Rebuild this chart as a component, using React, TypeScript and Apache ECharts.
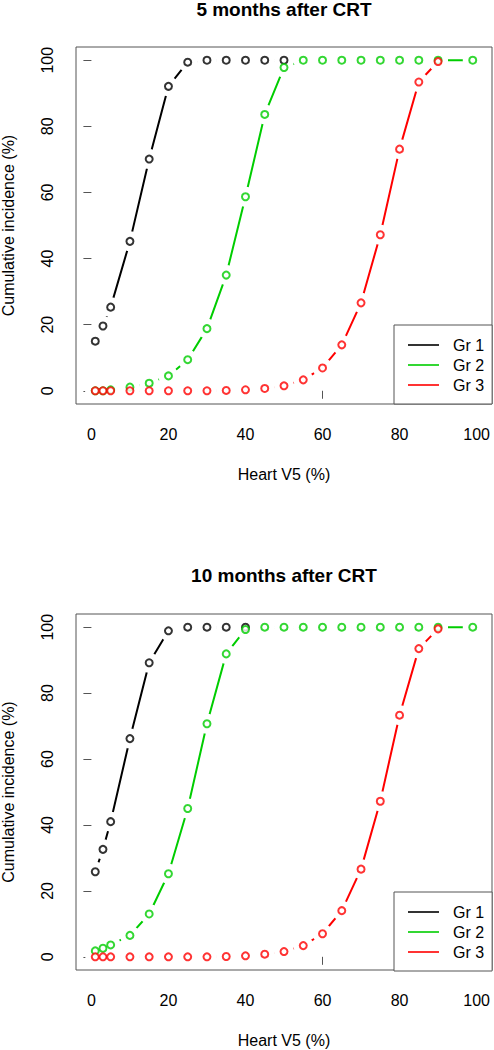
import React, { useEffect, useRef } from "react";
import * as echarts from "echarts";

// ---- Data ----
const titles = ["5 months after CRT", "10 months after CRT"];
const groupNames = ["Gr 1", "Gr 2", "Gr 3"];
const groupColors = ["#000000", "#00CD00", "#FF0000"];
const tickValues = [0, 20, 40, 60, 80, 100];

// Panel 1 (5 months)
const x5Gr1 = [1, 3, 5, 10, 15, 20, 25, 30, 35, 40, 45, 50];
const y5Gr1 = [15.0, 19.6, 25.3, 45.2, 70.1, 92.1, 99.4, 100, 100, 100, 100, 100];
const x5Gr2 = [1, 3, 5, 10, 15, 20, 25, 30, 35, 40, 45, 50, 55, 60, 65, 70, 75, 80, 85, 90, 99];
const y5Gr2 = [0, 0, 0.3, 1.1, 2.3, 4.5, 9.4, 18.8, 35.0, 58.7, 83.6, 97.8, 100, 100, 100, 100, 100, 100, 100, 100, 100];
const x5Gr3 = [1, 3, 5, 10, 15, 20, 25, 30, 35, 40, 45, 50, 55, 60, 65, 70, 75, 80, 85, 90];
const y5Gr3 = [0, 0, 0, 0, 0, 0, 0, 0, 0.1, 0.3, 0.7, 1.5, 3.3, 6.9, 13.9, 26.6, 47.2, 73.1, 93.4, 99.6];

// Panel 2 (10 months)
const x10Gr1 = [1, 3, 5, 10, 15, 20, 25, 30, 35, 40];
const y10Gr1 = [25.8, 32.6, 41.0, 66.2, 89.2, 98.9, 100, 100, 100, 100];
const x10Gr2 = [1, 3, 5, 10, 15, 20, 25, 30, 35, 40, 45, 50, 55, 60, 65, 70, 75, 80, 85, 90, 99];
const y10Gr2 = [1.8, 2.6, 3.6, 6.5, 13.0, 25.2, 45.0, 70.7, 91.9, 99.3, 100, 100, 100, 100, 100, 100, 100, 100, 100, 100, 100];
const x10Gr3 = [1, 3, 5, 10, 15, 20, 25, 30, 35, 40, 45, 50, 55, 60, 65, 70, 75, 80, 85, 90];
const y10Gr3 = [0, 0, 0, 0, 0, 0, 0, 0, 0.1, 0.3, 0.8, 1.6, 3.4, 7.0, 14.0, 26.6, 47.2, 73.3, 93.5, 99.5];

const panels = [
  { xs: [x5Gr1, x5Gr2, x5Gr3], ys: [y5Gr1, y5Gr2, y5Gr3] },
  { xs: [x10Gr1, x10Gr2, x10Gr3], ys: [y10Gr1, y10Gr2, y10Gr3] },
];

const FONT = "'Liberation Sans', Arial, sans-serif";

export default function App() {
  const ref = useRef<HTMLDivElement>(null);

  useEffect(() => {
    if (!ref.current) return;
    const chart = echarts.init(ref.current, null, { renderer: "svg" });

    const grids = [
      { left: 76, top: 47, width: 416, height: 357 },
      { left: 76, top: 614, width: 416, height: 356 },
    ];

    const xAxes = grids.map((_, i) => ({
      type: "value",
      gridIndex: i,
      min: -4,
      max: 104,
      name: "Heart V5 (%)",
      nameLocation: "middle",
      nameGap: 62,
      nameTextStyle: { fontSize: 16, color: "#000", fontFamily: FONT },
      axisLine: { show: false },
      splitLine: { show: false },
      axisTick: { show: true, length: 8, customValues: tickValues, lineStyle: { color: "#555" } },
      axisLabel: { show: true, customValues: tickValues, margin: 22, fontSize: 16, color: "#000", fontFamily: FONT },
    }));

    const yAxes = grids.map((_, i) => ({
      type: "value",
      gridIndex: i,
      min: -4,
      max: 104,
      name: "Cumulative incidence (%)",
      nameLocation: "middle",
      nameGap: 60,
      nameTextStyle: { fontSize: 16, color: "#000", fontFamily: FONT },
      axisLine: { show: false },
      splitLine: { show: false },
      axisTick: { show: true, length: 8, customValues: tickValues, lineStyle: { color: "#555" } },
      axisLabel: { show: true, customValues: tickValues, rotate: 90, margin: 21, fontSize: 16, color: "#000", fontFamily: FONT },
    }));

    const scatterSeries: any[] = [];
    const lineSeries: any[] = [];
    panels.forEach((p, pi) => {
      groupNames.forEach((name, gi) => {
        const data = p.xs[gi].map((x, k) => [x, p.ys[gi][k]]);
        scatterSeries.push({
          type: "scatter",
          name,
          xAxisIndex: pi,
          yAxisIndex: pi,
          data,
          symbol: "emptyCircle",
          symbolSize: 7,
          itemStyle: { color: groupColors[gi], borderColor: groupColors[gi], borderWidth: 2 },
          z: 4,
          silent: true,
        });
        lineSeries.push({
          type: "line",
          name,
          xAxisIndex: pi,
          yAxisIndex: pi,
          data,
          symbol: "circle",
          symbolSize: 20,
          showSymbol: true,
          itemStyle: { color: "#fff", borderWidth: 0 },
          lineStyle: { color: groupColors[gi], width: 2 },
          z: 2,
          silent: true,
        });
      });
    });

    const legendTops = [325, 892];
    const legends = legendTops.map((top) => ({
      orient: "vertical",
      left: 394,
      top,
      padding: [12, 8, 11, 14],
      itemGap: 4,
      itemWidth: 31,
      itemHeight: 2,
      icon: "rect",
      borderColor: "#555",
      borderWidth: 1,
      borderRadius: 0,
      backgroundColor: "#fff",
      selectedMode: false,
      textStyle: { fontSize: 16, lineHeight: 16, color: "#000", fontFamily: FONT, padding: [0, 0, 0, 9] },
      data: groupNames.map((n, gi) => ({ name: n, itemStyle: { color: groupColors[gi], borderWidth: 0 } })),
      z: 10,
    }));

    const titleY = [0, 566];
    const graphic = titles.map((t, i) => ({
      type: "text",
      x: 284,
      y: titleY[i],
      style: {
        text: t,
        fontSize: 19,
        fontWeight: "bold",
        fontFamily: FONT,
        fill: "#000",
        textAlign: "center",
        textVerticalAlign: "top",
      },
    }));

    chart.setOption({
      animation: false,
      backgroundColor: "#fff",
      grid: grids.map((g) => ({
        ...g,
        show: true,
        containLabel: false,
        outerBoundsMode: "none",
        borderColor: "#555",
        borderWidth: 1,
        backgroundColor: "transparent",
      })),
      xAxis: xAxes,
      yAxis: yAxes,
      legend: legends,
      graphic,
      series: [...scatterSeries, ...lineSeries],
    });

    return () => chart.dispose();
  }, []);

  return (
    <div
      ref={ref}
      style={{ position: "absolute", left: 0, top: 0, width: 494, height: 1050, background: "#fff" }}
    />
  );
}
